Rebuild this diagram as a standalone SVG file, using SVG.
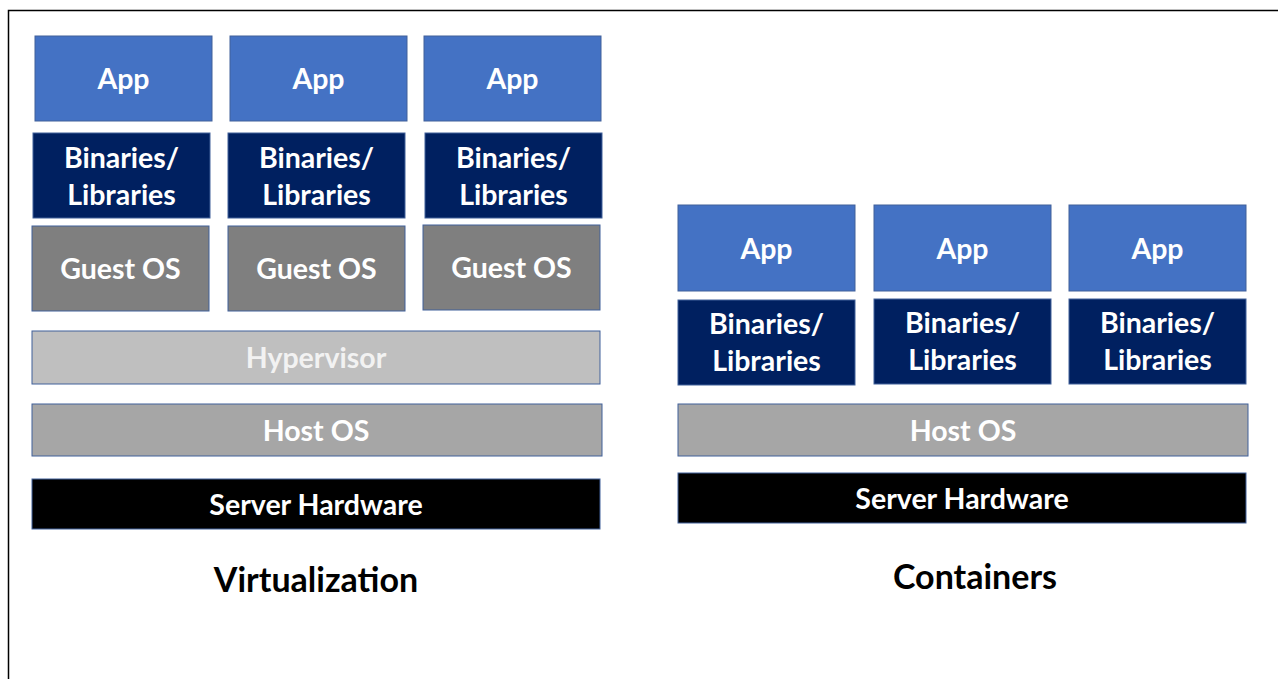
<svg xmlns="http://www.w3.org/2000/svg" width="1278" height="679" viewBox="0 0 1278 679">
<style>
.box{stroke:#41609a;stroke-width:1}
.app{fill:#4472c4}
.bin{fill:#002060}
.guest{fill:#7f7f7f}
.hyp{fill:#bfbfbf}
.host{fill:#a6a6a6}
.hw{fill:#000000}
.t{font-family:Lato,"Open Sans","Liberation Sans",sans-serif;font-weight:bold;font-size:28.5px;fill:#ffffff;text-anchor:middle}
.title{font-family:Lato,"Open Sans","Liberation Sans",sans-serif;font-weight:bold;font-size:34px;fill:#000000;text-anchor:middle}
</style>
<rect width="1278" height="679" fill="#ffffff"/>
<path d="M8.5,690 V10.5 H1290" fill="none" stroke="#000" stroke-width="1.5"/>

<g id="virt-app1"><rect class="box app" x="35" y="36" width="177" height="85"/><text class="t" x="123.5" y="89">App</text></g>
<g id="virt-app2"><rect class="box app" x="230" y="36" width="177" height="85"/><text class="t" x="318.5" y="89">App</text></g>
<g id="virt-app3"><rect class="box app" x="424" y="36" width="177" height="85"/><text class="t" x="512.5" y="89">App</text></g>

<g id="virt-bin1"><rect class="box bin" x="33" y="133" width="177" height="85"/><text class="t" x="121.5" y="168">Binaries/</text><text class="t" x="121.5" y="205">Libraries</text></g>
<g id="virt-bin2"><rect class="box bin" x="228" y="133" width="177" height="85"/><text class="t" x="316.5" y="168">Binaries/</text><text class="t" x="316.5" y="205">Libraries</text></g>
<g id="virt-bin3"><rect class="box bin" x="425" y="133" width="177" height="85"/><text class="t" x="513.5" y="168">Binaries/</text><text class="t" x="513.5" y="205">Libraries</text></g>

<g id="virt-guest1"><rect class="box guest" x="32" y="226" width="177" height="85"/><text class="t" x="120.5" y="279">Guest OS</text></g>
<g id="virt-guest2"><rect class="box guest" x="228" y="226" width="177" height="85"/><text class="t" x="316.5" y="279">Guest OS</text></g>
<g id="virt-guest3"><rect class="box guest" x="423" y="225" width="177" height="85"/><text class="t" x="511.5" y="278">Guest OS</text></g>

<g id="virt-hypervisor"><rect class="box hyp" x="32" y="331" width="568" height="53"/><text class="t" x="316" y="368" style="fill:#f2f2f2">Hypervisor</text></g>
<g id="virt-hostos"><rect class="box host" x="32" y="404" width="570" height="52"/><text class="t" x="316" y="441">Host OS</text></g>
<g id="virt-hw"><rect class="box hw" x="32" y="479" width="568" height="50"/><text class="t" x="316" y="515">Server Hardware</text></g>
<text class="title" x="316" y="592">Virtualization</text>

<g id="cont-app1"><rect class="box app" x="678" y="205" width="177" height="86"/><text class="t" x="766.5" y="259">App</text></g>
<g id="cont-app2"><rect class="box app" x="874" y="205" width="177" height="86"/><text class="t" x="962.5" y="259">App</text></g>
<g id="cont-app3"><rect class="box app" x="1069" y="205" width="177" height="86"/><text class="t" x="1157.5" y="259">App</text></g>

<g id="cont-bin1"><rect class="box bin" x="678" y="300" width="177" height="85"/><text class="t" x="766.5" y="334">Binaries/</text><text class="t" x="766.5" y="371">Libraries</text></g>
<g id="cont-bin2"><rect class="box bin" x="874" y="299" width="177" height="85"/><text class="t" x="962.5" y="333">Binaries/</text><text class="t" x="962.5" y="370">Libraries</text></g>
<g id="cont-bin3"><rect class="box bin" x="1069" y="299" width="177" height="85"/><text class="t" x="1157.5" y="333">Binaries/</text><text class="t" x="1157.5" y="370">Libraries</text></g>

<g id="cont-hostos"><rect class="box host" x="678" y="404" width="570" height="52"/><text class="t" x="963" y="441">Host OS</text></g>
<g id="cont-hw"><rect class="box hw" x="678" y="473" width="568" height="50"/><text class="t" x="962" y="509">Server Hardware</text></g>
<text class="title" x="975" y="589">Containers</text>
<g id="connectors"></g>
</svg>
